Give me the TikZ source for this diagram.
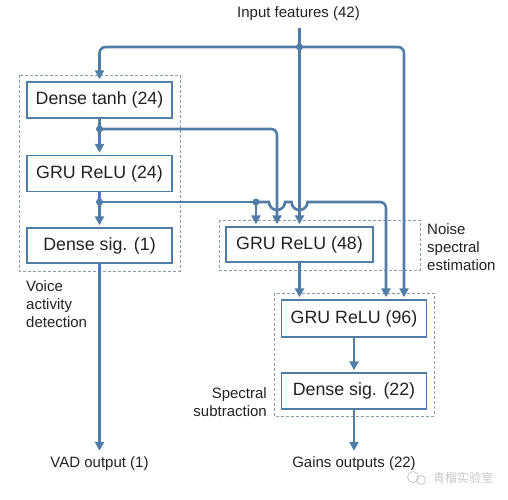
\documentclass[tikz,border=0pt]{standalone}
\usepackage{fontspec}
\setmainfont{Liberation Sans}
\newfontfamily\cjkfont{Noto Sans CJK SC}
\usetikzlibrary{arrows.meta,calc}
\definecolor{lineblue}{HTML}{4F7DA5}
\definecolor{dashgray}{HTML}{8A9DB0}
\definecolor{txt}{HTML}{222222}
\definecolor{wm}{HTML}{C8C8C8}
\tikzset{
  layer/.style={draw=lineblue, line width=1.4pt, fill=white, minimum width=145pt, minimum height=36pt, inner sep=0pt,
    font=\fontsize{17.8}{20}\selectfont, text=txt},
  grp/.style={draw=dashgray, line width=1pt, dash pattern=on 3pt off 2pt},
  conn/.style={draw=lineblue, line width=2.6pt, rounded corners=6pt},
  arr/.style={conn, -{Triangle[length=9pt,width=9pt]}, shorten >=2pt},
  jdot/.style={circle, fill=lineblue, inner sep=0pt, minimum size=7pt},
  lbl/.style={font=\fontsize{15}{18}\selectfont, text=txt, inner sep=0pt},
}
\begin{document}
\begin{tikzpicture}[x=1pt,y=-1pt]
\useasboundingbox (0,0) rectangle (508,499);
% group boxes
\draw[grp] (19,75) rectangle (180,271);
\draw[grp] (219,220) rectangle (420,270);
\draw[grp] (274,293) rectangle (434,416);
% layers
\node[layer] (tanh) at (99.5,100) {Dense tanh (24)};
\node[layer] (gru24) at (99.5,173.5) {GRU ReLU (24)};
\node[layer, minimum height=35pt] (sig1) at (99.5,245.5) {Dense sig. (1)};
\node[layer, minimum width=147pt, minimum height=35pt] (gru48) at (299.5,244.5) {GRU ReLU (48)};
\node[layer, minimum height=37pt] (gru96) at (354,318.5) {GRU ReLU (96)};
\node[layer] (sig22) at (354,391) {Dense sig. (22)};
% labels
\node[lbl] (in) at (298.5,14) {Input features (42)};
\node[lbl] (vadout) at (99.5,464) {VAD output (1)};
\node[lbl] (gainout) at (354,464) {Gains outputs (22)};
\node[lbl, anchor=north west, align=left] (vadlbl) at (26,280) {Voice\\activity\\detection};
\node[lbl, anchor=north west, align=left] (noiselbl) at (427,223) {Noise\\spectral\\estimation};
\node[lbl, anchor=north east, align=right] (speclbl) at (267,387) {Spectral\\subtraction};
% junction points
\coordinate (inTop) at (299.5,28);
\coordinate (j0) at (299.5,47);
\coordinate (j1) at (99.5,129);
\coordinate (j2) at (99.5,202);
\coordinate (j3) at (256,202);
% input distribution
\draw[conn] (inTop) -- (j0);
\draw[arr] (j0) -| (tanh.north);
\draw[arr] (j0) -- (gru48.north);
\draw[arr] (j0) -| ($(gru96.north)+(50,0)$);
% VAD branch
\draw[arr] (tanh.south) -- (gru24.north);
\draw[arr] (gru24.south) -- (sig1.north);
\draw[arr] (sig1.south) -- ($(vadout.north)+(0,-4)$);
% skip connections
\draw[arr] (j1) -| ($(gru48.north)+(-22.5,0)$);
\draw[conn] (j2) -- (j3);
\draw[arr] (j3) -- ($(gru48.north)+(-43.5,0)$);
\draw[line width=2.6pt, draw=lineblue] (j3) -- (269,202) arc[start angle=180,end angle=0,radius=8] -- (291.5,202) arc[start angle=180,end angle=0,radius=8] -- (312,202);
\coordinate (hopend) at (312,202);
\draw[arr] (hopend) -| ($(gru96.north)+(32,0)$);
% spectral subtraction branch
\draw[arr] (gru48.south) -- (gru48.south |- gru96.north);
\draw[arr] (gru96.south) -- (sig22.north);
\draw[arr] (sig22.south) -- ($(gainout.north)+(0,-4)$);
% junction dots
\node[jdot] (d0) at (j0) {};
\node[jdot] (d1) at (j1) {};
\node[jdot] (d2) at (j2) {};
\node[jdot] (d3) at (j3) {};
% watermark
\draw[wm, line width=0.8pt] (413,477) circle (5.5) (421,480) circle (4.5);
\node[text=wm, inner sep=0pt, font=\cjkfont\fontsize{12}{14}\selectfont] (wmtext) at (463,478) {青榴实验室};
\end{tikzpicture}
\end{document}
